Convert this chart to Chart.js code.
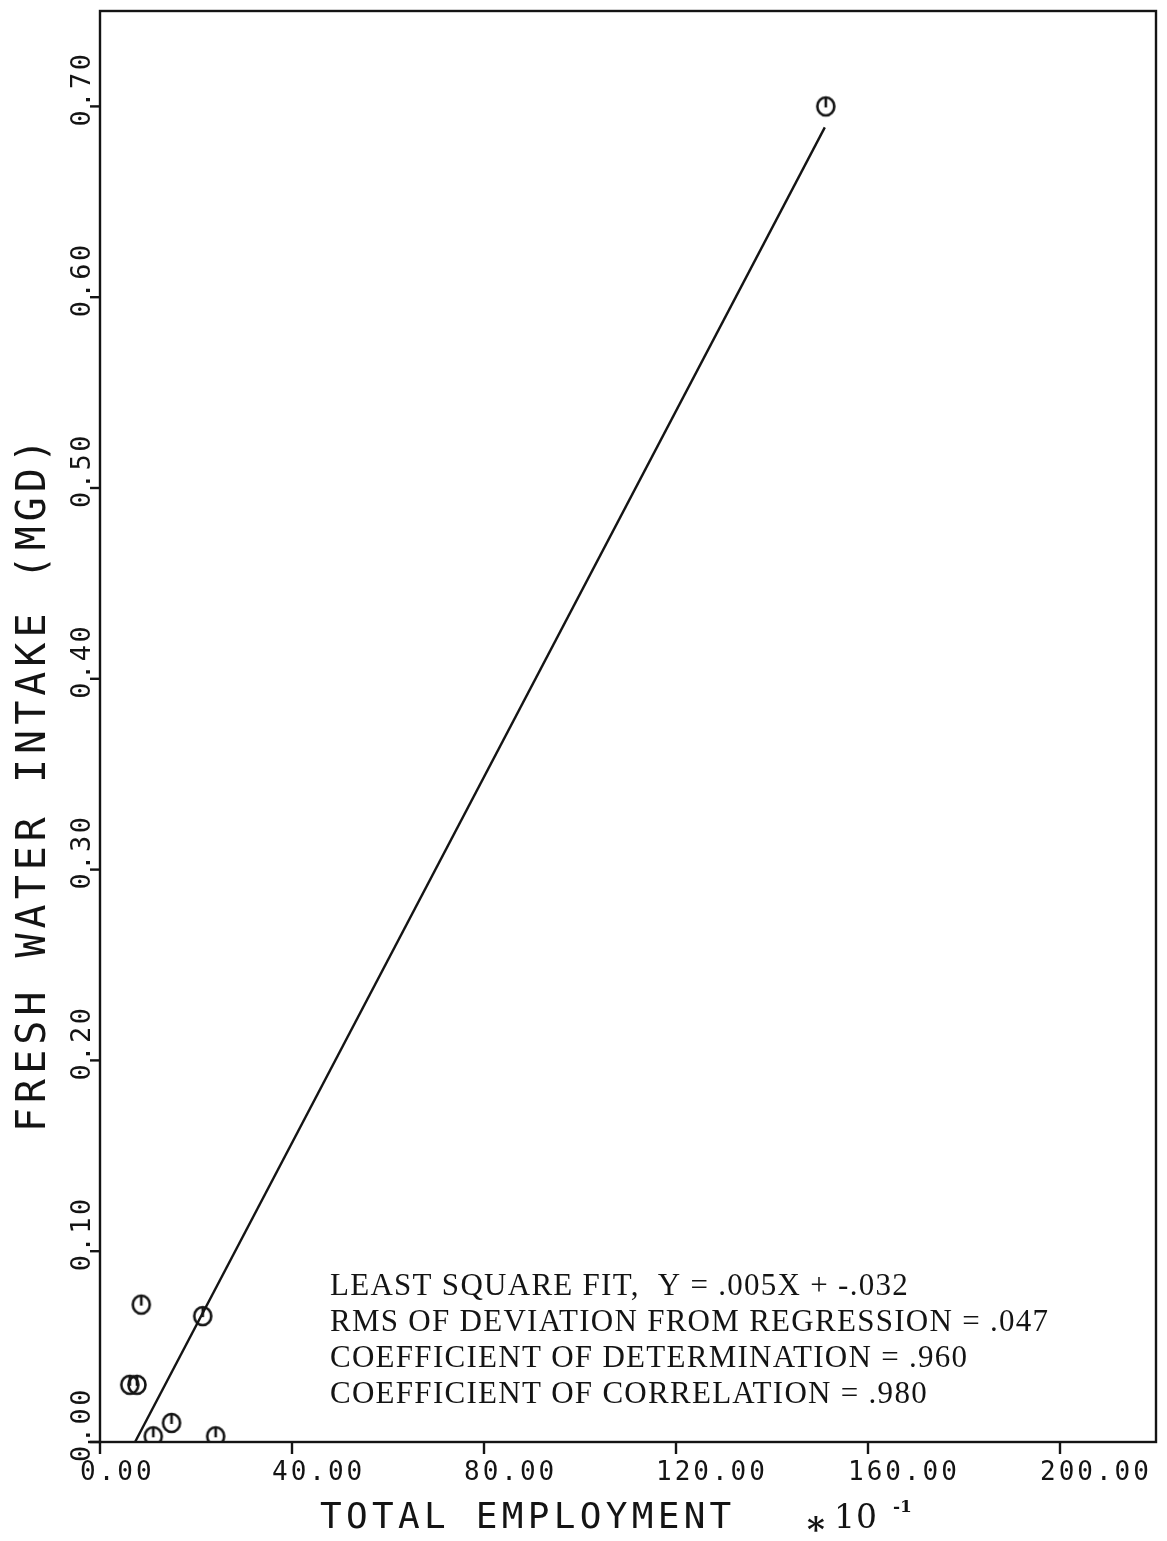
<!DOCTYPE html>
<html>
<head>
<meta charset="utf-8">
<script src="https://cdn.jsdelivr.net/npm/chart.js@4/dist/chart.umd.min.js"></script>
<style>
  html, body { margin: 0; padding: 0; background: #fff; }
  #wrap { width: 1167px; height: 1541px; position: relative; }
</style>
</head>
<body>
<div id="wrap"><canvas id="waterchart"></canvas></div>
<script>
// observed points (employment *10^-1 vs fresh water intake, MGD)
const employment = [151.2, 8.6, 21.4, 6.2, 7.7, 14.9, 11.1, 24.1];
const intake = [0.700, 0.072, 0.066, 0.030, 0.030, 0.010, 0.003, 0.003];

// least square fit line, drawn between its two ends
const fitX = [7.3, 151.0];
const fitY = [0.0, 0.689];

const xTicks = [0, 40, 80, 120, 160, 200];
const yTicks = [0, 0.1, 0.2, 0.3, 0.4, 0.5, 0.6, 0.7];

const notes = [
    'LEAST SQUARE FIT,  Y = .005X + -.032',
    'RMS OF DEVIATION FROM REGRESSION = .047',
    'COEFFICIENT OF DETERMINATION = .960',
    'COEFFICIENT OF CORRELATION = .980'
];

const ink = '#141414';

// circle marker with a short stroke from the top to the middle
function makeMarker() {
    const c = document.createElement('canvas');
    c.width = 26;
    c.height = 26;
    const g = c.getContext('2d');
    g.strokeStyle = ink;
    g.lineWidth = 2.6;
    g.beginPath();
    g.ellipse(13, 13, 8.5, 9, 0, 0, Math.PI * 2);
    g.stroke();
    g.beginPath();
    g.moveTo(13, 4.5);
    g.lineTo(13, 14);
    g.stroke();
    return c;
}

const frame = {
    id: 'frame',
    afterDraw(chart) {
        const ctx = chart.ctx;
        const a = chart.chartArea;
        const xs = chart.scales.x;
        const ys = chart.scales.y;
        ctx.save();
        ctx.strokeStyle = ink;
        ctx.fillStyle = ink;
        ctx.lineWidth = 2.4;
        ctx.strokeRect(a.left, a.top, a.right - a.left, a.bottom - a.top);
        ctx.beginPath();
        ctx.moveTo(a.left - 12, a.bottom);
        ctx.lineTo(a.left, a.bottom);
        ctx.stroke();

        // x ticks and labels
        ctx.font = '26px "DejaVu Sans Mono"';
        ctx.letterSpacing = '3px';
        ctx.textAlign = 'left';
        ctx.textBaseline = 'alphabetic';
        xTicks.forEach(v => {
            const px = xs.getPixelForValue(v);
            ctx.beginPath();
            ctx.moveTo(px, a.bottom);
            ctx.lineTo(px, a.bottom + 12);
            ctx.stroke();
            ctx.fillText(v.toFixed(2), px - 20, a.bottom + 38);
        });

        // y ticks and rotated labels
        ctx.font = '27px "DejaVu Sans Mono"';
        ctx.letterSpacing = '2.5px';
        yTicks.forEach(v => {
            const py = ys.getPixelForValue(v);
            ctx.beginPath();
            ctx.moveTo(a.left, py);
            ctx.lineTo(a.left - 10, py);
            ctx.stroke();
            ctx.save();
            ctx.translate(a.left - 10, py + 20);
            ctx.rotate(-Math.PI / 2);
            ctx.fillText(v.toFixed(2), 0, 0);
            ctx.restore();
        });

        // axis titles
        ctx.font = '36px "DejaVu Sans Mono"';
        ctx.letterSpacing = '4.3px';
        ctx.fillText('TOTAL EMPLOYMENT', 320, 1528);
        ctx.letterSpacing = '0px';
        ctx.font = 'bold 34px "DejaVu Serif"';
        ctx.fillText('*', 807, 1541);
        ctx.font = '33px "DejaVu Serif"';
        ctx.letterSpacing = '1px';
        ctx.fillText('10', 834, 1528);
        ctx.font = 'bold 17px "DejaVu Serif"';
        ctx.letterSpacing = '0px';
        ctx.fillText('-1', 893, 1512);

        ctx.save();
        ctx.translate(45, 1132);
        ctx.rotate(-Math.PI / 2);
        ctx.font = '40px "DejaVu Sans Mono"';
        ctx.letterSpacing = '5px';
        ctx.fillText('FRESH WATER INTAKE (MGD)', 0, 0);
        ctx.restore();

        // fit statistics
        ctx.font = '31px "Liberation Serif"';
        ctx.letterSpacing = '0px';
        const w = ctx.measureText(notes[1]).width;
        const sp = (718 - w) / (notes[1].length - 1);
        ctx.letterSpacing = sp.toFixed(2) + 'px';
        notes.forEach((t, i) => {
            ctx.fillText(t, 330, 1295 + i * 36);
        });
        ctx.restore();
    }
};

new Chart(document.getElementById('waterchart'), {
    type: 'scatter',
    data: {
        datasets: [{
            label: 'observed',
            data: employment.map((x, i) => ({ x: x, y: intake[i] })),
            pointStyle: makeMarker(),
            pointRadius: 10,
            showLine: false
        }, {
            label: 'fit',
            type: 'line',
            data: fitX.map((x, i) => ({ x: x, y: fitY[i] })),
            borderColor: ink,
            borderWidth: 2.4,
            pointRadius: 0,
            fill: false
        }]
    },
    options: {
        responsive: true,
        maintainAspectRatio: false,
        animation: false,
        layout: {
            padding: { left: 100, top: 8, right: 6, bottom: 99 }
        },
        plugins: {
            legend: { display: false },
            tooltip: { enabled: false }
        },
        scales: {
            x: { type: 'linear', min: 0, max: 220, display: false },
            y: { type: 'linear', min: 0, max: 0.75, display: false }
        }
    },
    plugins: [frame]
});
</script>
</body>
</html>
